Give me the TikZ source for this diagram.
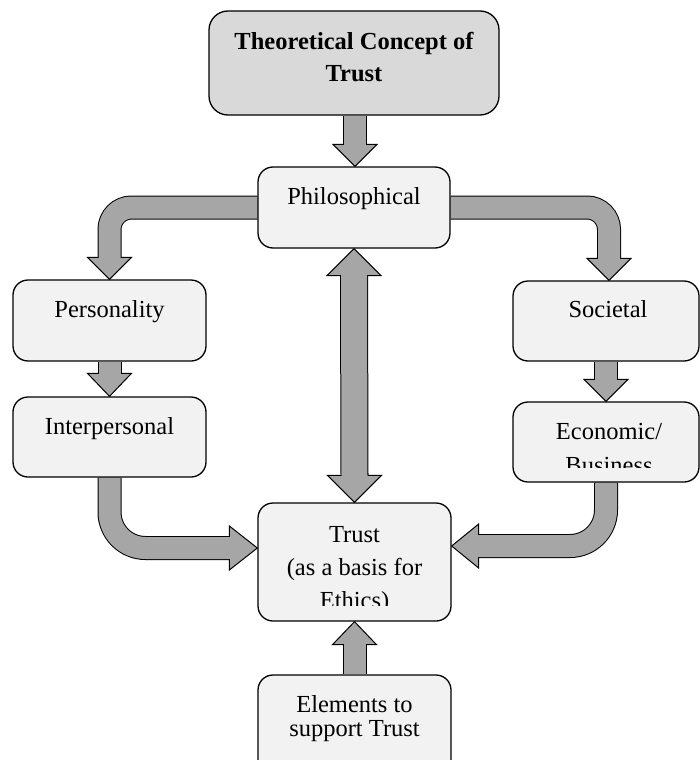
\documentclass[tikz,border=0pt]{standalone}
\usepackage{fontspec}
\setmainfont{Liberation Serif}
\usetikzlibrary{positioning,calc,backgrounds}
\definecolor{boxgray}  {HTML}{F2F2F2}
\definecolor{titlegray}{HTML}{D9D9D9}
\definecolor{arrowgray}{HTML}{A6A6A6}

% block arrow head: [half width]{base}{tip}
\newcommand{\fathead}[3][22]{%
  \filldraw[tipshape] ($(#2)!#1pt!90:(#3)$) -- (#3) -- ($(#2)!#1pt!-90:(#3)$) -- cycle;}
% block arrow: [options]{path to last corner}{head base}{tip}
\newcommand{\fatarrow}[4][]{%
  \draw[shaftline,#1] #2 -- (#3);
  \fathead{#3}{#4}
  \draw[shaftfill,#1] #2 -- ($(#3)!1.5pt!(#4)$);}

\begin{document}
\begin{tikzpicture}[
  x=1pt, y=-1pt,
  box/.style={
    rectangle, rounded corners=15pt, draw, line width=1.3pt,
    fill=boxgray, inner sep=0pt
  },
  topbox/.style={box, rounded corners=19pt, fill=titlegray},
  txt/.style={font=\fontsize{24.5}{33}\selectfont, align=center, inner sep=0pt, anchor=base},
  shaftline/.style={line width=24pt, draw=black, line cap=butt},
  shaftfill/.style={line width=22pt, draw=arrowgray, line cap=butt},
  tipshape/.style={fill=arrowgray, draw=black, line width=1pt, line join=miter},
]
\useasboundingbox (0,0) rectangle (700,760);
\clip (0,0) rectangle (700,760);

% Boxes
\node[topbox, minimum width=290pt, minimum height=104pt] (top)   at (354,63)     {};
\node[box, minimum width=192pt, minimum height=81pt]     (phil)  at (354,207.5)  {};
\node[box, minimum width=193pt, minimum height=81pt]     (pers)  at (109.5,320.5) {};
\node[box, minimum width=193pt, minimum height=80pt]     (inter) at (109.5,437)  {};
\node[box, minimum width=186pt, minimum height=80pt]     (soc)   at (606,321)    {};
\node[box, minimum width=186pt, minimum height=80pt]     (econ)  at (606,442)    {};
\node[box, minimum width=193pt, minimum height=118pt]    (trust) at (354.5,562)  {};
\node[box, minimum width=193pt, minimum height=100pt]    (elem)  at (354.5,725)  {};

% Texts (base = last line)
\node[txt, font=\bfseries\fontsize{24.5}{32}\selectfont] (toptxt) at ($(top.north)+(0,71)$)
  {Theoretical Concept of\\Trust};
\node[txt] (philtxt)  at ($(phil.north)+(0,38)$)  {Philosophical};
\node[txt] (perstxt)  at ($(pers.north)+(0,38)$)  {Personality};
\node[txt] (intertxt) at ($(inter.north)+(0,38)$) {Interpersonal};
\node[txt] (soctxt)   at ($(soc.north)+(2,37)$)   {Societal};
\begin{scope}
  \clip (econ.north west) rectangle ($(econ.south east)+(0,-15)$);
  \node[txt, font=\fontsize{24.5}{34}\selectfont] (econtxt) at ($(econ.north)+(3,72)$)
    {Economic/\\Business};
\end{scope}
\begin{scope}
  \clip (trust.north west) rectangle ($(trust.south east)+(0,-16)$);
  \node[txt] (trusttxt) at ($(trust.north)+(0,106)$)
    {Trust\\(as a basis for\\Ethics)};
\end{scope}
\node[txt, font=\fontsize{24.5}{24.5}\selectfont] (elemtxt) at ($(elem.north)+(0,62.5)$)
  {Elements to\\support Trust};

% Arrows
\begin{scope}[on background layer]
  \coordinate (h1) at ($(phil.north)+(1,-22)$);
  \coordinate (h2) at ($(pers.north)+(0,-22)$);
  \coordinate (h3) at ($(soc.north)+(3,-22)$);
  \coordinate (h4) at ($(inter.north)+(0,-23)$);
  \coordinate (h5) at ($(econ.north)+(0,-22)$);
  \coordinate (t7) at ($(trust.west)+(0,-14)$);
  \coordinate (h7) at ($(t7)+(-28,0)$);
  \coordinate (t8) at ($(trust.east)+(0,-16)$);
  \coordinate (h8) at ($(t8)+(27,0)$);
  \coordinate (h9) at ($(trust.south)+(0,23)$);
  \coordinate (u1) at ($(phil.south)+(0,27)$);
  \coordinate (d1) at ($(trust.north)+(0,-27)$);

  \fatarrow{(top.south -| h1)}{h1}{$(phil.north)+(1,0)$}
  \fatarrow[rounded corners=22pt]{(phil.west) -- (phil.west -| h2)}{h2}{pers.north}
  \fatarrow[rounded corners=22pt]{(phil.east) -- (phil.east -| h3)}{h3}{$(soc.north)+(3,0)$}
  \fatarrow{(pers.south)}{h4}{inter.north}
  \fatarrow{(soc.south)}{h5}{econ.north}
  \fatarrow[rounded corners=36pt]{(inter.south) -- (inter.south |- h7)}{h7}{t7}
  \fatarrow[rounded corners=36pt]{(econ.south) -- (econ.south |- h8)}{h8}{t8}
  \fatarrow{(elem.north)}{h9}{trust.south}

  % two-way arrow
  \draw[shaftline, line width=28pt] (u1) -- (d1);
  \fathead[27]{u1}{phil.south}
  \fathead[27]{d1}{trust.north}
  \draw[shaftfill, line width=26pt] ($(u1)!1.5pt!(phil.south)$) -- ($(d1)!1.5pt!(trust.north)$);
\end{scope}
\end{tikzpicture}
\end{document}
